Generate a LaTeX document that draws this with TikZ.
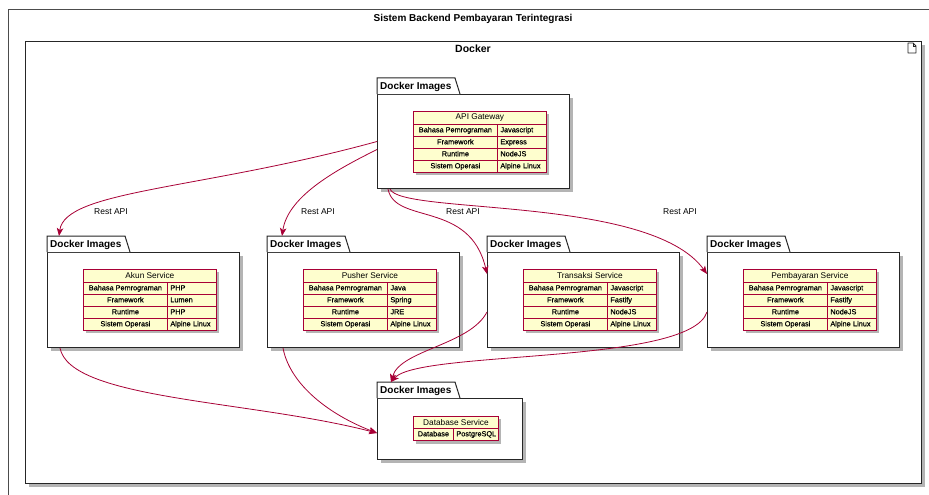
\documentclass[tikz,border=0pt]{standalone}
\usepackage{fontspec}
\setmainfont{Liberation Sans}
\newfontfamily\cellfont{Liberation Sans}[FakeBold=0.6]
\usetikzlibrary{arrows.meta,calc}
\definecolor{crim}{HTML}{A80036}
\definecolor{cellc}{HTML}{FEFECE}
\definecolor{shadowc}{HTML}{B4B4B4}
\tikzset{
  pkgbody/.style={draw=black!85, line width=1pt, fill=white, rectangle, anchor=north west, inner sep=0pt},
  pkgline/.style={draw=black!85, line width=1pt, line join=miter},
  pkglabel/.style={font=\fontsize{10}{12}\selectfont\bfseries, inner sep=0pt},
  ttl/.style={draw=crim, fill=cellc, line width=0.8pt, rectangle, anchor=north west, inner sep=0pt, font=\fontsize{8.3}{10}\selectfont},
  cl/.style={draw=crim, fill=cellc, line width=0.8pt, rectangle, anchor=north west, inner sep=0pt, minimum width=84pt, minimum height=12pt, text height=5.3pt, text depth=1.5pt, font=\cellfont\fontsize{7.3}{8}\selectfont},
  cr/.style={draw=crim, fill=cellc, line width=0.8pt, rectangle, anchor=north west, inner xsep=3pt, inner ysep=0pt, text width=43pt, align=left, minimum height=12pt, text height=5.3pt, text depth=1.5pt, font=\cellfont\fontsize{7.3}{8}\selectfont},
  conn/.style={draw=crim, line width=0.8pt, -{Stealth[length=8pt,width=6.5pt,inset=2pt]}},
  lbl/.style={font=\fontsize{8.5}{10}\selectfont, inner sep=1pt},
}
\newcommand\pkgbox[5]{%
  \fill[shadowc] (#2+4,#3+20) rectangle (#4+4,#5+4);
  \node[pkgbody, minimum width={#4-#2}, minimum height={#5-#3-16}] (#1) at (#2,#3+16) {};
  \draw[pkgline, fill=white] (#2,#3+16) -- (#2,#3) -- (#2+78,#3) -- (#2+83,#3+16);
  \coordinate (#1-tab) at (#2,#3);
  \node[pkglabel, anchor=west] (#1-lbl) at (#2+3,#3+8.5) {Docker Images};
}
\newcommand\svctab[8]{%
  \fill[shadowc] (#2+3,#3+3) rectangle (#2+136,#3+64);
  \node[ttl, minimum width=133pt, minimum height=13pt] (#1) at (#2,#3) {#4};
  \node[cl] (#1-a) at (#2,#3+13) {Bahasa Pemrograman};
  \node[cr] (#1-av) at (#2+84,#3+13) {#5};
  \node[cl] (#1-b) at (#2,#3+25) {Framework};
  \node[cr] (#1-bv) at (#2+84,#3+25) {#6};
  \node[cl] (#1-c) at (#2,#3+37) {Runtime};
  \node[cr] (#1-cv) at (#2+84,#3+37) {#7};
  \node[cl] (#1-d) at (#2,#3+49) {Sistem Operasi};
  \node[cr] (#1-dv) at (#2+84,#3+49) {#8};
}
\begin{document}
\begin{tikzpicture}[x=1pt,y=-1pt]
\useasboundingbox (0,0) rectangle (929,495);
\fill[white] (0,0) rectangle (929,495);
% outer frame
\draw[black!70, line width=1pt] (8,10) rectangle (945,510);
\node[font=\fontsize{10}{12}\selectfont\bfseries] (title) at (473,19) {Sistem Backend Pembayaran Terintegrasi};
% docker frame
\fill[shadowc] (29,45) rectangle (925,487);
\node[pkgbody, minimum width=896pt, minimum height=442pt] (docker) at (25,41) {};
\node[font=\fontsize{10.5}{12}\selectfont\bfseries] (dockerlbl) at (473,49) {Docker};
\draw[black!85, line width=0.8pt, line join=round] (908,43) -- (913,43) -- (916,46) -- (916,53) -- (908,53) -- cycle;
\draw[black!85, line width=0.8pt] (913,43) -- (913,46) -- (916,46);
% packages
\pkgbox{api}{377}{78}{569}{188}
\pkgbox{akun}{47}{236}{239}{347}
\pkgbox{pus}{267}{236}{459}{347}
\pkgbox{tra}{487}{236}{679}{347}
\pkgbox{pem}{707}{236}{899}{347}
\pkgbox{db}{377}{382}{522}{459}
% tables
\svctab{apit}{413}{111}{API Gateway}{Javascript}{Express}{NodeJS}{Alpine Linux}
\svctab{akunt}{83}{269}{Akun Service}{PHP}{Lumen}{PHP}{Alpine Linux}
\svctab{pust}{303}{269}{Pusher Service}{Java}{Spring}{JRE}{Alpine Linux}
\svctab{trat}{523}{269}{Transaksi Service}{Javascript}{Fastify}{NodeJS}{Alpine Linux}
\svctab{pemt}{743}{269}{Pembayaran Service}{Javascript}{Fastify}{NodeJS}{Alpine Linux}
% database table
\fill[shadowc] (416,419) rectangle (501,444);
\node[ttl, minimum width=85pt, minimum height=12pt] (dbt) at (413,416) {Database Service};
\node[cl, minimum width=40pt] (dbt-a) at (413,428) {Database};
\node[cr, text width=39pt] (dbt-av) at (453,428) {PostgreSQL};
% connectors
\coordinate (dbtop) at (391,382);
\draw[conn] (api.west) .. controls (200,190) and (65,190) .. ([xshift=12pt]akun-tab);
\draw[conn] ([yshift=-8pt]api.west) .. controls (340,168) and (288,195) .. ([xshift=15pt]pus-tab);
\draw[conn] ([xshift=11pt]api.south west) .. controls (395,225) and (470,200) .. ([yshift=-22pt]tra.north west);
\draw[conn] ([xshift=13pt]api.south west) .. controls (400,215) and (650,195) .. ([yshift=-22pt]pem.north west);
\draw[conn] ([xshift=13pt]akun.south west) .. controls (70,400) and (250,400) .. ([yshift=-4pt]db.west);
\draw[conn] ([xshift=16pt]pus.south west) .. controls (290,385) and (330,415) .. ([yshift=-4pt]db.west);
\draw[conn] ([yshift=-12pt]tra.west) .. controls (470,345) and (400,350) .. (dbtop);
\draw[conn] ([yshift=-12pt]pem.west) .. controls (690,365) and (420,350) .. (dbtop);
% labels
\node[lbl] (l1) at (111,212) {Rest API};
\node[lbl] (l2) at (318,212) {Rest API};
\node[lbl] (l3) at (463,212) {Rest API};
\node[lbl] (l4) at (680,212) {Rest API};
\end{tikzpicture}
\end{document}
